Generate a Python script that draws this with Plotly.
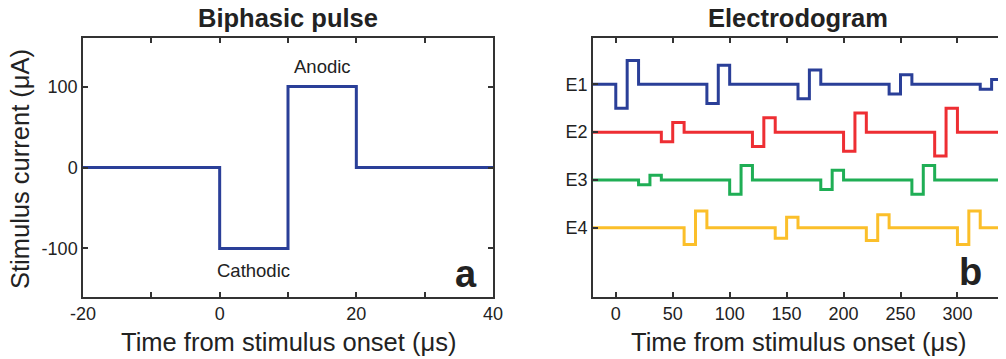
import plotly.graph_objects as go

# ---- data ----
pulse_t = [-20, 0, 10, 20, 40]          # µs, step times
pulse_i = [0, -100, 100, 0, 0]          # µA

electrodes = ["E1", "E2", "E3", "E4"]
e_offsets = [0, -1, -2, -3]
e_colors = ["#2a3f98", "#ee2e33", "#1fae55", "#fbbf2a"]
e1_onsets = [0, 80, 160, 240, 320]
e1_amps = [0.5, 0.4, 0.3, 0.2, 0.1]
e2_onsets = [40, 120, 200, 280]
e2_amps = [0.2, 0.3, 0.4, 0.5]
e3_onsets = [20, 100, 180, 260]
e3_amps = [0.1, 0.3, 0.2, 0.3]
e4_onsets = [60, 140, 220, 300]
e4_amps = [0.35, 0.22, 0.27, 0.35]
phase_width = 10  # µs per phase
t_start, t_end = -20, 340

# page body has an 8px margin; compensate so the figure lands where the reference is
OX, OY = 8, 8
W, H = 1006 - OX, 359 - OY
FONT = "Liberation Sans, Arial, sans-serif"
AX = "#333333"
TXT = "#222222"

def px(x):
    return (x - OX) / W

def py(y):
    return 1 - (y - OY) / H

fig = go.Figure()

# left panel
fig.add_trace(go.Scatter(x=pulse_t, y=pulse_i, mode="lines", line_shape="hv",
                         line=dict(color="#2a3f98", width=3), xaxis="x", yaxis="y",
                         showlegend=False, hoverinfo="skip"))

def waveform(onsets, amps, off):
    xs = [t_start]
    ys = [off]
    for t0, a in zip(onsets, amps):
        xs += [t0, t0 + phase_width, t0 + 2 * phase_width]
        ys += [off - a, off + a, off]
    if xs[-1] < t_end:
        xs.append(t_end)
        ys.append(off)
    return xs, ys

all_on = [e1_onsets, e2_onsets, e3_onsets, e4_onsets]
all_amp = [e1_amps, e2_amps, e3_amps, e4_amps]
for name, on, am, off, col in zip(electrodes, all_on, all_amp, e_offsets, e_colors):
    xs, ys = waveform(on, am, off)
    fig.add_trace(go.Scatter(x=xs, y=ys, mode="lines", line_shape="hv",
                             line=dict(color=col, width=3), xaxis="x2", yaxis="y2",
                             name=name, showlegend=False, hoverinfo="skip"))

axis_common = dict(showline=True, linecolor=AX, linewidth=1.5, mirror="ticks",
                   ticks="inside", ticklen=5, tickwidth=1.5, tickcolor=AX,
                   showgrid=False, zeroline=False, automargin=False,
                   tickfont=dict(family=FONT, size=18, color=TXT))

fig.update_layout(
    template="none",
    width=W, height=H,
    margin=dict(l=0, r=0, t=0, b=0, pad=0),
    paper_bgcolor="white", plot_bgcolor="white",
    xaxis=dict(domain=[px(83), px(493)], range=[-20, 40],
               tickvals=[-20, -10, 0, 10, 20, 30, 40],
               ticktext=["-20", "", "0", "", "20", "", "40"],
               anchor="y", **axis_common),
    yaxis=dict(domain=[py(297), py(38)], range=[-160, 160],
               tickvals=[-100, 0, 100], ticktext=["-100", "0", "100"],
               anchor="x", **axis_common),
    xaxis2=dict(domain=[px(593), px(1003)], range=[-20, 340],
                tickvals=[0, 50, 100, 150, 200, 250, 300],
                anchor="y2", **axis_common),
    yaxis2=dict(domain=[py(297), py(38)], range=[-4.45, 0.97],
                tickvals=e_offsets, ticktext=electrodes,
                anchor="x2", **axis_common),
)

ann = []
def add_text(text, x, y, size, bold=False, angle=0, xref="paper", yref="paper",
             xanchor="center", yanchor="middle"):
    ann.append(dict(text=f"<b>{text}</b>" if bold else text, x=x, y=y, xref=xref, yref=yref,
                    showarrow=False, textangle=angle, xanchor=xanchor, yanchor=yanchor,
                    font=dict(family=FONT, size=size, color=TXT)))

add_text("Biphasic pulse", px(288), py(18), 25.5, bold=True)
add_text("Electrodogram", px(798), py(18), 25.5, bold=True)
add_text("Time from stimulus onset (μs)", px(288), py(342), 25.5)
add_text("Time from stimulus onset (μs)", px(798), py(342), 25.5)
add_text("Stimulus current (μA)", px(20), py(169), 25.5, angle=-90)
add_text("Anodic", 15, 125, 18.5, xref="x", yref="y")
add_text("Cathodic", 5, -127, 18.5, xref="x", yref="y")
add_text("a", px(466), py(274), 38, bold=True)
add_text("b", px(970), py(272), 38, bold=True)
fig.update_layout(annotations=ann)

fig.write_html("out.html")
